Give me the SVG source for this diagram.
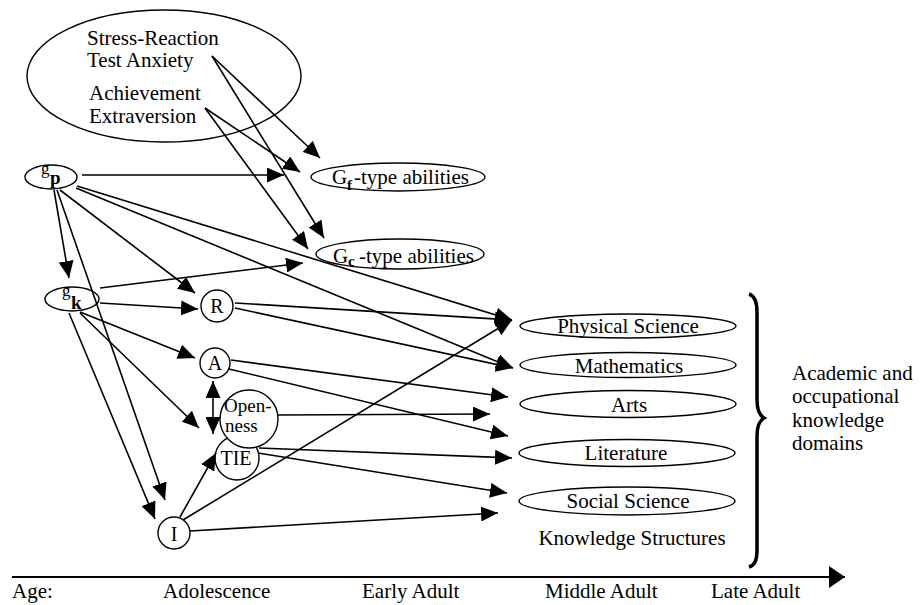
<svg xmlns="http://www.w3.org/2000/svg" width="920" height="605" viewBox="0 0 920 605" font-family="Liberation Serif">
<defs>
<marker id="ah" viewBox="0 0 17 15" refX="17" refY="7.5" markerWidth="17" markerHeight="15" markerUnits="userSpaceOnUse" orient="auto"><path d="M0,0 L17,7.5 L0,15 z" fill="#000"/></marker>
<marker id="ahs" viewBox="0 0 17 15" refX="17" refY="7.5" markerWidth="17" markerHeight="15" markerUnits="userSpaceOnUse" orient="auto-start-reverse"><path d="M0,0 L17,7.5 L0,15 z" fill="#000"/></marker>
<marker id="tl" viewBox="0 0 16 22" refX="16" refY="11" markerWidth="16" markerHeight="22" markerUnits="userSpaceOnUse" orient="auto"><path d="M0,0 L16,11 L0,22 z" fill="#000"/></marker>
</defs>

<g id="personality">
<ellipse cx="164" cy="76" rx="137" ry="66" fill="none" stroke="#000" stroke-width="1.4"/>
<text x="87" y="45" font-family="Liberation Serif" font-size="21">Stress-Reaction</text>
<text x="87" y="67" font-family="Liberation Serif" font-size="21">Test Anxiety</text>
<text x="89" y="100" font-family="Liberation Serif" font-size="21">Achievement</text>
<text x="89" y="123" font-family="Liberation Serif" font-size="21">Extraversion</text>
</g>

<g id="gp">
<ellipse cx="51" cy="177" rx="26" ry="12" fill="#fff" stroke="#000" stroke-width="1.4"/>
<text x="41" y="174" font-family="Liberation Serif" font-size="17">g</text>
<text x="50" y="184" font-family="Liberation Serif" font-size="19" font-weight="bold">p</text>
</g>

<g id="gk">
<ellipse cx="72" cy="299" rx="27" ry="12" fill="#fff" stroke="#000" stroke-width="1.4"/>
<text x="62" y="296" font-family="Liberation Serif" font-size="17">g</text>
<text x="71" y="309" font-family="Liberation Serif" font-size="19" font-weight="bold">k</text>
</g>

<g id="gf">
<ellipse cx="398" cy="177" rx="87" ry="14" fill="#fff" stroke="#000" stroke-width="1.4"/>
<text x="332" y="184" font-family="Liberation Serif" font-size="21">G</text>
<text x="347" y="190" font-family="Liberation Serif" font-size="15" font-weight="bold">f</text>
<text x="354" y="184" font-family="Liberation Serif" font-size="21">-type abilities</text>
</g>

<g id="gc">
<ellipse cx="400" cy="254" rx="84" ry="15" fill="#fff" stroke="#000" stroke-width="1.4"/>
<text x="333" y="263" font-family="Liberation Serif" font-size="21">G</text>
<text x="348" y="266" font-family="Liberation Serif" font-size="15" font-weight="bold">c</text>
<text x="359" y="263" font-family="Liberation Serif" font-size="21">-type abilities</text>
</g>

<g id="R">
<circle cx="217" cy="306" r="16" fill="#fff" stroke="#000" stroke-width="1.4"/>
<text x="217" y="313" font-family="Liberation Serif" font-size="20" text-anchor="middle">R</text>
</g>

<g id="A">
<circle cx="215" cy="363" r="15" fill="#fff" stroke="#000" stroke-width="1.4"/>
<text x="215" y="370" font-family="Liberation Serif" font-size="20" text-anchor="middle">A</text>
</g>

<g id="TIE">
<circle cx="237" cy="458" r="22" fill="#fff" stroke="#000" stroke-width="1.4"/>
<text x="236" y="465" font-family="Liberation Serif" font-size="20" text-anchor="middle">TIE</text>
</g>

<g id="openness">
<circle cx="249" cy="419" r="29" fill="#fff" stroke="#000" stroke-width="1.4"/>
<text x="224" y="412" font-family="Liberation Serif" font-size="19">Open-</text>
<text x="225" y="432" font-family="Liberation Serif" font-size="19">ness</text>
</g>

<g id="I">
<circle cx="174" cy="533" r="16" fill="#fff" stroke="#000" stroke-width="1.4"/>
<text x="174" y="541" font-family="Liberation Serif" font-size="20" text-anchor="middle">I</text>
</g>

<g id="physical">
<ellipse cx="628" cy="326" rx="108" ry="12" fill="#fff" stroke="#000" stroke-width="1.4"/>
<text x="628" y="333" font-family="Liberation Serif" font-size="21" text-anchor="middle">Physical Science</text>
</g>
<g id="mathematics">
<ellipse cx="628" cy="365" rx="108" ry="12.5" fill="#fff" stroke="#000" stroke-width="1.4"/>
<text x="629" y="373" font-family="Liberation Serif" font-size="21" text-anchor="middle">Mathematics</text>
</g>
<g id="arts">
<ellipse cx="628" cy="404" rx="108" ry="13.5" fill="#fff" stroke="#000" stroke-width="1.4"/>
<text x="629" y="412" font-family="Liberation Serif" font-size="21" text-anchor="middle">Arts</text>
</g>
<g id="literature">
<ellipse cx="627" cy="453" rx="108" ry="13.5" fill="#fff" stroke="#000" stroke-width="1.4"/>
<text x="626" y="460" font-family="Liberation Serif" font-size="21" text-anchor="middle">Literature</text>
</g>
<g id="social">
<ellipse cx="627" cy="501" rx="108" ry="14" fill="#fff" stroke="#000" stroke-width="1.4"/>
<text x="628" y="508" font-family="Liberation Serif" font-size="21" text-anchor="middle">Social Science</text>
</g>

<g id="knowledge-label">
<text x="632" y="545" font-family="Liberation Serif" font-size="21" text-anchor="middle">Knowledge Structures</text>
</g>

<g id="domains">
<path d="M749,294 C755,296 757,302 757,312 L757,400 C757,410 759,415 764,418 C759,421 757,426 757,436 L757,550 C757,560 755,565 749,567" fill="none" stroke="#000" stroke-width="3.5"/>
<text x="792" y="380" font-family="Liberation Serif" font-size="21">Academic and</text>
<text x="792" y="403" font-family="Liberation Serif" font-size="21">occupational</text>
<text x="792" y="427" font-family="Liberation Serif" font-size="21">knowledge</text>
<text x="792" y="450" font-family="Liberation Serif" font-size="21">domains</text>
</g>

<g id="connectors" stroke="#000" stroke-width="1.6" marker-end="url(#ah)">
<line x1="212" y1="56" x2="320" y2="158"/>
<line x1="212" y1="56" x2="324" y2="238"/>
<line x1="205" y1="108" x2="300" y2="172"/>
<line x1="205" y1="108" x2="308" y2="249"/>
<line x1="82" y1="175" x2="284" y2="175"/>
<line x1="54" y1="190" x2="69" y2="278"/>
<line x1="57" y1="190" x2="165" y2="500"/>
<line x1="60" y1="190" x2="195" y2="293"/>
<line x1="77" y1="186" x2="512" y2="320"/>
<line x1="76" y1="188" x2="513" y2="368"/>
<line x1="100" y1="288" x2="303" y2="263"/>
<line x1="100" y1="303" x2="198" y2="309"/>
<line x1="80" y1="312" x2="195" y2="358"/>
<line x1="80" y1="313" x2="199" y2="428"/>
<line x1="69" y1="313" x2="155" y2="519"/>
<line x1="213" y1="381" x2="213" y2="434" marker-start="url(#ahs)"/>
<line x1="235" y1="303" x2="512" y2="320"/>
<line x1="235" y1="308" x2="513" y2="368"/>
<line x1="231" y1="360" x2="508" y2="397"/>
<line x1="229" y1="369" x2="508" y2="436"/>
<line x1="278" y1="415" x2="490" y2="414"/>
<line x1="259" y1="448" x2="512" y2="458"/>
<line x1="258" y1="453" x2="507" y2="493"/>
<line x1="180" y1="517" x2="216" y2="453"/>
<line x1="183" y1="520" x2="512" y2="320"/>
<line x1="190" y1="531" x2="498" y2="513"/>
</g>

<g id="timeline">
<line x1="12" y1="577" x2="845" y2="577" stroke="#000" stroke-width="2" marker-end="url(#tl)"/>
<text x="12" y="598" font-family="Liberation Serif" font-size="21">Age:</text>
<text x="163" y="598" font-family="Liberation Serif" font-size="21">Adolescence</text>
<text x="362" y="598" font-family="Liberation Serif" font-size="21">Early Adult</text>
<text x="545" y="598" font-family="Liberation Serif" font-size="21">Middle Adult</text>
<text x="711" y="598" font-family="Liberation Serif" font-size="21">Late Adult</text>
</g>
</svg>
